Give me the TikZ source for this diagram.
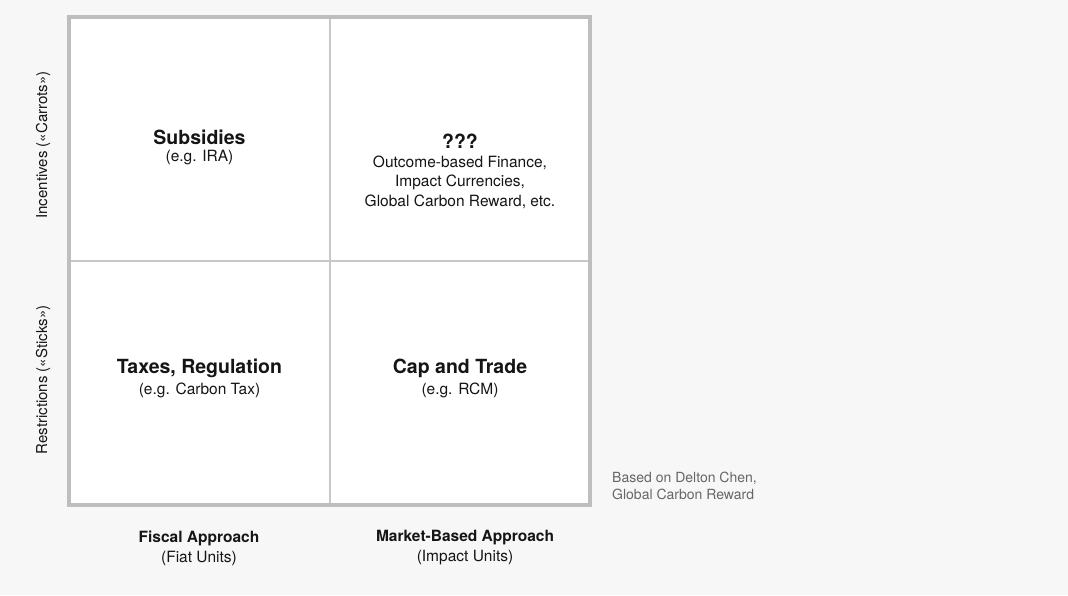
\documentclass[tikz,border=0pt]{standalone}
\usepackage{fontspec}
\setmainfont{TeX Gyre Heros}
\definecolor{bggray}{HTML}{F7F7F7}
\definecolor{framegray}{HTML}{BEBEBE}
\definecolor{linegray}{HTML}{C8C8C8}
\definecolor{inkgray}{HTML}{151515}
\definecolor{notegray}{HTML}{666666}

\begin{document}
\begin{tikzpicture}[x=1pt,y=-1pt]
\tikzstyle{every node}+=[inner sep=0pt, text=inkgray]
\tikzstyle{head}=[font=\fontsize{19.5}{22}\selectfont\bfseries]
\tikzstyle{sub}=[font=\fontsize{15.5}{19.5}\selectfont, align=center]
\tikzstyle{axis}=[font=\fontsize{15}{17}\selectfont, rotate=90]
\tikzstyle{colhead}=[font=\fontsize{15.5}{17}\selectfont\bfseries]
\useasboundingbox (0,0) rectangle (1068,595);
\fill [bggray] (0,0) rectangle (1068,595);
% the four cells
\fill [white] (69,17) rectangle (590,505);
\draw [linegray, line width=1.5] (330,17) -- (330,505);
\draw [linegray, line width=1.5] (69,261) -- (590,261);
\draw [framegray, line width=4] (69,17) rectangle (590,505);
% cell texts
\node [head] (subs) at (199.5,137) {Subsidies};
\node [sub] (subsex) at (199.5,158) {(e.g. IRA)};
\node [head] (qqq) at (460,141) {???};
\node [sub] (qqqex) at (460,182) {Outcome-based Finance,\\Impact Currencies,\\Global Carbon Reward, etc.};
\node [head] (tax) at (199.5,368) {Taxes, Regulation};
\node [sub] (taxex) at (199.5,390) {(e.g. Carbon Tax)};
\node [head] (cap) at (460,368) {Cap and Trade};
\node [sub] (capex) at (460,390) {(e.g. RCM)};
% row labels
\node [axis] (carrots) at (43,145) {Incentives («Carrots»)};
\node [axis] (sticks) at (43,380) {Restrictions («Sticks»)};
% column labels
\node [colhead] (fiscal) at (199,538) {Fiscal Approach};
\node [sub] (fiscalex) at (199,558) {(Fiat Units)};
\node [colhead] (market) at (465,538) {Market-Based Approach};
\node [sub] (marketex) at (465,558) {(Impact Units)};
% source note
\node [font=\fontsize{14}{17}\selectfont, text=notegray, align=left, anchor=west] (note) at (612,485.5) {Based on Delton Chen,\\Global Carbon Reward};
\end{tikzpicture}
\end{document}
